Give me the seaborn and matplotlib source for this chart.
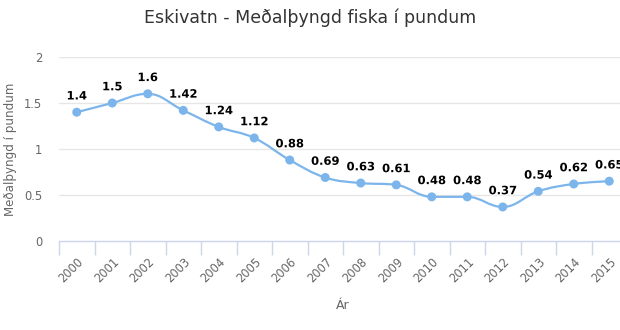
import matplotlib
matplotlib.use("Agg")
import matplotlib.pyplot as plt
import matplotlib.patheffects as pe
from matplotlib.path import Path
from matplotlib.patches import PathPatch
from matplotlib.ticker import FixedLocator
import numpy as np
import pandas as pd
import seaborn as sns

years = ["2000", "2001", "2002", "2003", "2004", "2005", "2006", "2007",
         "2008", "2009", "2010", "2011", "2012", "2013", "2014", "2015"]
weights = [1.4, 1.5, 1.6, 1.42, 1.24, 1.12, 0.88, 0.69,
           0.63, 0.61, 0.48, 0.48, 0.37, 0.54, 0.62, 0.65]
y_ticks = [0, 0.5, 1, 1.5, 2]
y_tick_labels = ["0", "0.5", "1", "1.5", "2"]

title = "Eskivatn - Meðalþyngd fiska í pundum"
x_label = "Ár"
y_label = "Meðalþyngd í pundum"

LINE = "#7cb5ec"
GRID = "#e6e6e6"
AXIS = "#ccd6eb"
LABEL = "#666666"

sns.set_theme(style="white")
plt.rcParams["font.family"] = ["DejaVu Sans"]

df = pd.DataFrame({"year": years, "weight": weights})
df["pos"] = np.arange(len(df))

fig = plt.figure(figsize=(6.2, 3.3), dpi=100)
ax = fig.add_axes([59 / 620, 89 / 330, 568 / 620, 184 / 330])


def spline_path(xs, ys, smoothing=1.5):
    """Cubic Bezier path through the points, using smoothed control points."""
    n = len(xs)
    denom = smoothing + 1
    lc = [None] * n
    rc = [None] * n
    for i in range(1, n - 1):
        lx, ly = xs[i - 1], ys[i - 1]
        px, py = xs[i], ys[i]
        nx, ny = xs[i + 1], ys[i + 1]
        lcx = (smoothing * px + lx) / denom
        lcy = (smoothing * py + ly) / denom
        rcx = (smoothing * px + nx) / denom
        rcy = (smoothing * py + ny) / denom
        if rcx != lcx:
            corr = (rcy - lcy) * (rcx - px) / (rcx - lcx) + py - rcy
            lcy += corr
            rcy += corr
        if lcy > max(ly, py):
            lcy = max(ly, py)
            rcy = 2 * py - lcy
        elif lcy < min(ly, py):
            lcy = min(ly, py)
            rcy = 2 * py - lcy
        if rcy > max(py, ny):
            rcy = max(py, ny)
            lcy = 2 * py - rcy
        elif rcy < min(py, ny):
            rcy = min(py, ny)
            lcy = 2 * py - rcy
        lc[i] = (lcx, lcy)
        rc[i] = (rcx, rcy)
    verts = [(xs[0], ys[0])]
    codes = [Path.MOVETO]
    for i in range(1, n):
        c1 = rc[i - 1] if rc[i - 1] is not None else (xs[i - 1], ys[i - 1])
        c2 = lc[i] if lc[i] is not None else (xs[i], ys[i])
        verts += [c1, c2, (xs[i], ys[i])]
        codes += [Path.CURVE4] * 3
    return Path(verts, codes)


# gridlines
for t in y_ticks[1:]:
    ax.axhline(t, color=GRID, lw=1, zorder=0)

# smoothed series line
path = spline_path(df["pos"].to_numpy(float), df["weight"].to_numpy(float))
ax.add_patch(PathPatch(path, facecolor="none", edgecolor=LINE, lw=1.6,
                       zorder=2, capstyle="round", joinstyle="round"))

# point markers
sns.scatterplot(data=df, x="pos", y="weight", ax=ax, color=LINE, s=42,
                edgecolor="none", zorder=3, legend=False)

# value labels
for p, v in zip(df["pos"], df["weight"]):
    ax.annotate(f"{v:g}", (p, v), xytext=(0, 7), textcoords="offset points",
                ha="center", va="bottom", fontsize=8.3, fontweight="bold",
                color="#000000", zorder=4, annotation_clip=False,
                path_effects=[pe.withStroke(linewidth=2, foreground="white")])

ax.set_xlim(-0.5, len(years) - 0.5)
ax.set_ylim(0, 2)

ax.set_yticks(y_ticks)
ax.set_yticklabels(y_tick_labels, color=LABEL, fontsize=8.3)
ax.tick_params(axis="y", length=0, pad=12)

ax.set_xticks(df["pos"])
ax.set_xticklabels(years, rotation=45, ha="right", rotation_mode="anchor",
                   color=LABEL, fontsize=8.3)
ax.tick_params(axis="x", which="major", bottom=False, length=0, pad=10)
# category boundary ticks
ax.xaxis.set_minor_locator(FixedLocator(np.arange(len(years) + 1) - 0.5))
ax.tick_params(axis="x", which="minor", bottom=True, length=10, width=1,
               color=AXIS, direction="out")

for side in ["top", "right", "left"]:
    ax.spines[side].set_visible(False)
ax.spines["bottom"].set_color(AXIS)
ax.spines["bottom"].set_linewidth(1)

ax.set_xlabel(x_label, color=LABEL, fontsize=9, labelpad=10)
ax.set_ylabel(y_label, color=LABEL, fontsize=8.6)
ax.yaxis.set_label_coords(17 / 620, 0.5 * (89 + 273) / 330,
                          transform=fig.transFigure)

fig.text(0.5, 1 - 18 / 330, title, ha="center", va="center",
         fontsize=12.5, color="#333333")

fig.savefig("out.png", dpi=100, facecolor="white")
